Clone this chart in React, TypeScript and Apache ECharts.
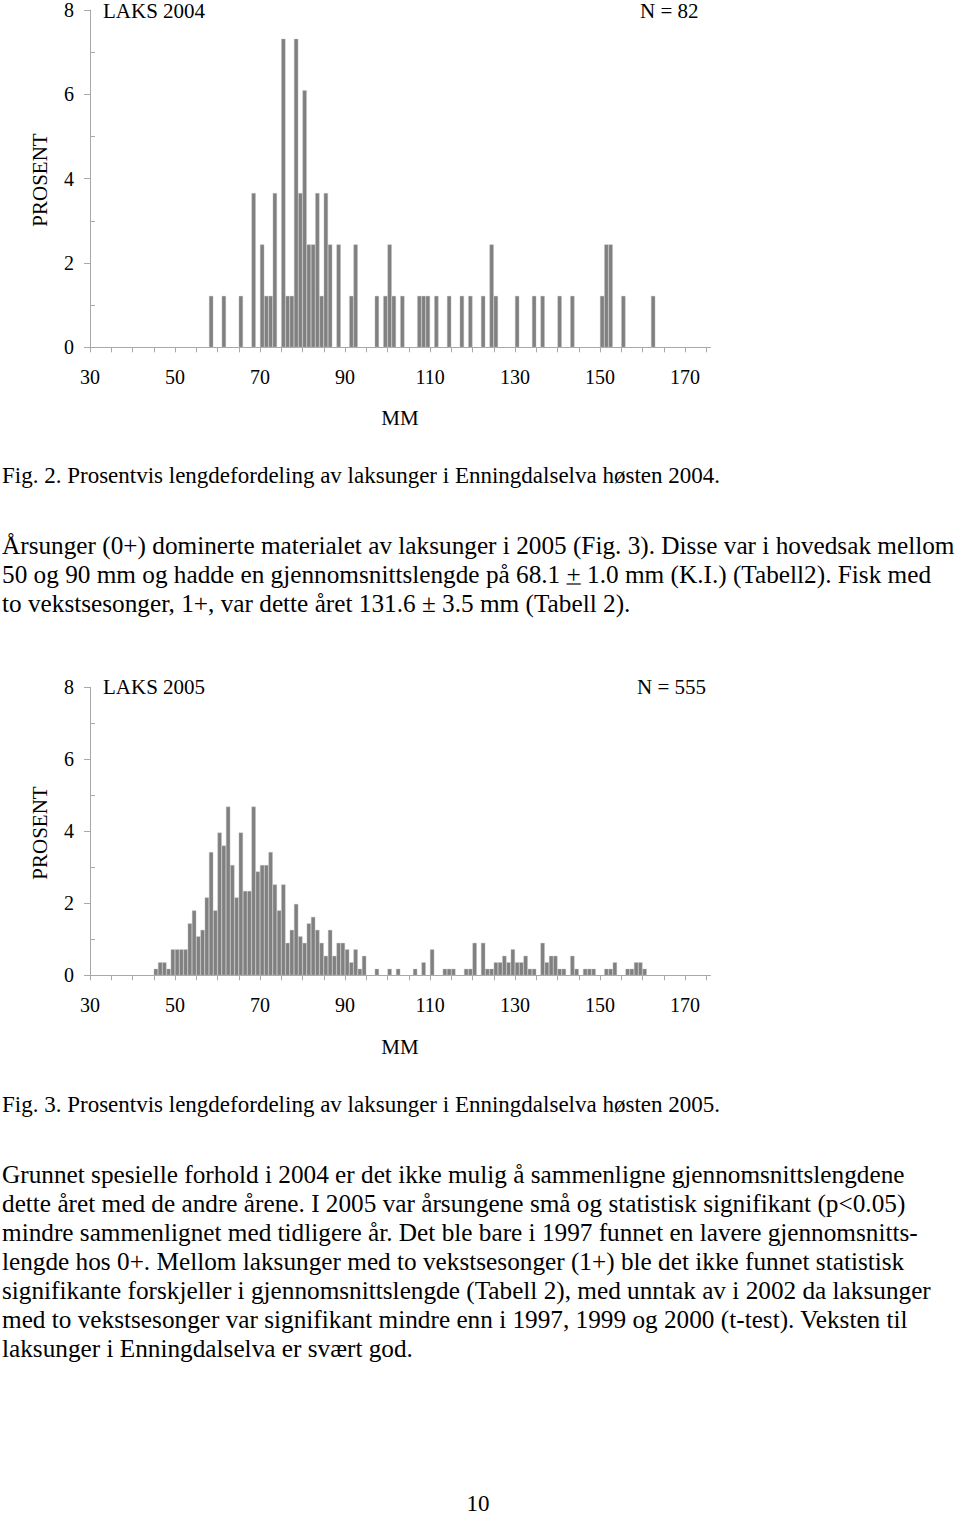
import React, { useEffect, useRef } from "react";
import * as echarts from "echarts";

// ---------- DATA ----------
const N2004 = 82;
const bins2004 = [58, 61, 65, 68, 70, 71, 72, 73, 75, 76, 77, 78, 79, 80, 81, 82, 83, 84, 85, 86, 88, 91, 92, 97, 99, 100, 101, 103, 107, 108, 109, 111, 114, 117, 119, 122, 124, 125, 130, 134, 136, 140, 143, 150, 151, 152, 155, 162];
const counts2004 = [1, 1, 1, 3, 2, 1, 1, 3, 6, 1, 1, 6, 3, 5, 2, 2, 3, 1, 3, 2, 2, 1, 2, 1, 1, 2, 1, 1, 1, 1, 1, 1, 1, 1, 1, 1, 2, 1, 1, 1, 1, 1, 1, 1, 2, 2, 1, 1];

const N2005 = 555;
const bins2005 = [45, 46, 47, 48, 49, 50, 51, 52, 53, 54, 55, 56, 57, 58, 59, 60, 61, 62, 63, 64, 65, 66, 67, 68, 69, 70, 71, 72, 73, 74, 75, 76, 77, 78, 79, 80, 81, 82, 83, 84, 85, 86, 87, 88, 89, 90, 91, 92, 93, 94, 97, 100, 102, 106, 108, 110, 113, 114, 115, 118, 119, 120, 122, 123, 124, 125, 126, 127, 128, 129, 130, 131, 132, 133, 134, 136, 137, 138, 139, 140, 141, 143, 144, 146, 147, 148, 151, 152, 153, 156, 157, 158, 159, 160];
const counts2005 = [1, 2, 2, 1, 4, 4, 4, 4, 8, 10, 6, 7, 12, 19, 10, 22, 20, 26, 17, 12, 22, 13, 13, 26, 16, 17, 17, 19, 14, 10, 14, 5, 7, 11, 6, 5, 8, 9, 7, 5, 3, 7, 3, 5, 5, 4, 2, 4, 1, 3, 1, 1, 1, 1, 2, 4, 1, 1, 1, 1, 1, 5, 5, 1, 1, 2, 2, 3, 2, 4, 2, 2, 3, 1, 1, 5, 2, 3, 3, 1, 1, 3, 1, 1, 1, 1, 1, 1, 2, 1, 1, 2, 2, 1];

const xTickValues = [30, 35, 40, 45, 50, 55, 60, 65, 70, 75, 80, 85, 90, 95, 100, 105, 110, 115, 120, 125, 130, 135, 140, 145, 150, 155, 160, 165, 170, 175];
const xLabelValues = [30, 50, 70, 90, 110, 130, 150, 170];
const yMinorValues = [1, 3, 5, 7];

const title2004 = "LAKS 2004";
const title2005 = "LAKS 2005";
const nLabel2004 = "N = 82";
const nLabel2005 = "N = 555";
const yName = "PROSENT";
const xName = "MM";

const caption2004 = "Fig. 2. Prosentvis lengdefordeling av laksunger i Enningdalselva høsten 2004.";
const caption2005 = "Fig. 3. Prosentvis lengdefordeling av laksunger i Enningdalselva høsten 2005.";
const para1 = [
  "Årsunger (0+) dominerte materialet av laksunger i 2005 (Fig. 3). Disse var i hovedsak mellom",
  "50 og 90 mm og hadde en gjennomsnittslengde på 68.1 + 1.0 mm (K.I.) (Tabell2). Fisk med",
  "to vekstsesonger, 1+, var dette året 131.6 ± 3.5 mm (Tabell 2).",
];
const para1UnderlinePrefix = "50 og 90 mm og hadde en gjennomsnittslengde på 68.1 ";
const para2 = [
  "Grunnet spesielle forhold i 2004 er det ikke mulig å sammenligne gjennomsnittslengdene",
  "dette året med de andre årene. I 2005 var årsungene små og statistisk signifikant (p<0.05)",
  "mindre sammenlignet med tidligere år. Det ble bare i 1997 funnet en lavere gjennomsnitts-",
  "lengde hos 0+. Mellom laksunger med to vekstsesonger (1+) ble det ikke funnet statistisk",
  "signifikante forskjeller i gjennomsnittslengde (Tabell 2), med unntak av i 2002 da laksunger",
  "med to vekstsesonger var signifikant mindre enn i 1997, 1999 og 2000 (t-test). Veksten til",
  "laksunger i Enningdalselva er svært god.",
];
const pageNumber = "10";

// ---------- STYLE ----------
const SERIF = '"Liberation Serif", "Times New Roman", Times, serif';
const AXIS = "#a8a8a8";
const BAR = "#808080";
const BODY_SIZE = 25.25;
const CAPTION_SIZE = 23;
const CHART_TEXT = 21;
const TICK_TEXT = 20;

function txt(text: string, x: number, y: number, size: number, align = "left", rotation = 0) {
  return {
    type: "text",
    x,
    y,
    rotation,
    silent: true,
    style: {
      text,
      fill: "#000",
      fontSize: size,
      fontFamily: SERIF,
      align,
      verticalAlign: "middle",
      textAlign: align,
      textVerticalAlign: "middle",
    },
  };
}

function measure(text: string, size: number) {
  const c = document.createElement("canvas").getContext("2d");
  if (!c) return text.length * size * 0.45;
  c.font = `${size}px ${SERIF}`;
  return c.measureText(text).width;
}

function xAxisFor(gridIndex: number) {
  return {
    type: "value",
    gridIndex,
    min: 30,
    max: 176,
    axisLine: { show: true, onZero: false, lineStyle: { color: AXIS, width: 1 } },
    axisTick: { show: true, length: 5, customValues: xTickValues, lineStyle: { color: AXIS } },
    axisLabel: { customValues: xLabelValues, margin: 20, fontSize: TICK_TEXT, fontFamily: SERIF, color: "#000" },
    splitLine: { show: false },
  };
}

function yAxesFor(gridIndex: number) {
  return [
    {
      type: "value",
      gridIndex,
      position: "left",
      min: 0,
      max: 8,
      interval: 2,
      axisLine: { show: true, onZero: false, lineStyle: { color: AXIS, width: 1 } },
      axisTick: { show: true, length: 6, lineStyle: { color: AXIS } },
      axisLabel: { margin: 16, fontSize: TICK_TEXT, fontFamily: SERIF, color: "#000" },
      splitLine: { show: false },
    },
    {
      type: "value",
      gridIndex,
      position: "left",
      min: 0,
      max: 8,
      axisLine: { show: false },
      axisTick: { show: true, inside: true, length: 5, customValues: yMinorValues, lineStyle: { color: AXIS } },
      axisLabel: { show: false },
      splitLine: { show: false },
    },
  ];
}

function barSeries(bins: number[], counts: number[], n: number, xi: number, yi: number) {
  return {
    type: "bar",
    xAxisIndex: xi,
    yAxisIndex: yi,
    silent: true,
    barWidth: 4.25,
    itemStyle: { color: BAR, borderColor: "#c8c8c8", borderWidth: 0.4 },
    data: bins.map((b, i) => [b + 0.5, (counts[i] / n) * 100]),
  };
}

export default function App() {
  const ref = useRef<HTMLDivElement>(null);

  useEffect(() => {
    if (!ref.current) return;
    const chart = echarts.init(ref.current, undefined, { renderer: "svg" });

    const graphics: any[] = [];
    // chart 1 texts
    graphics.push(txt(title2004, 103, 11, CHART_TEXT));
    graphics.push(txt(nLabel2004, 640, 11, CHART_TEXT));
    graphics.push(txt(yName, 40, 180, CHART_TEXT, "center", Math.PI / 2));
    graphics.push(txt(xName, 400, 418, CHART_TEXT, "center"));
    // chart 2 texts
    graphics.push(txt(title2005, 103, 687, CHART_TEXT));
    graphics.push(txt(nLabel2005, 637, 687, CHART_TEXT));
    graphics.push(txt(yName, 40, 833, CHART_TEXT, "center", Math.PI / 2));
    graphics.push(txt(xName, 400, 1047, CHART_TEXT, "center"));

    // document text
    graphics.push(txt(caption2004, 2, 475, CAPTION_SIZE));
    para1.forEach((line, i) => graphics.push(txt(line, 2, 545 + 29 * i, BODY_SIZE)));
    const ux = 2 + measure(para1UnderlinePrefix, BODY_SIZE);
    const uw = measure("+", BODY_SIZE);
    graphics.push({
      type: "line",
      silent: true,
      shape: { x1: ux, y1: 574 + 10, x2: ux + uw, y2: 574 + 10 },
      style: { stroke: "#000", lineWidth: 1.2 },
    });
    graphics.push(txt(caption2005, 2, 1104, CAPTION_SIZE));
    para2.forEach((line, i) => graphics.push(txt(line, 2, 1174 + 29 * i, BODY_SIZE)));
    graphics.push(txt(pageNumber, 478, 1503, 23, "center"));

    const ys = [...yAxesFor(0), ...yAxesFor(1)];

    chart.setOption({
      animation: false,
      backgroundColor: "#fff",
      grid: [
        { left: 90, top: 9.3, width: 620.5, height: 338, containLabel: false },
        { left: 90, top: 687.3, width: 620.5, height: 288, containLabel: false },
      ],
      xAxis: [xAxisFor(0), xAxisFor(1)],
      yAxis: ys,
      series: [
        barSeries(bins2004, counts2004, N2004, 0, 0),
        barSeries(bins2005, counts2005, N2005, 1, 2),
      ],
      graphic: { elements: graphics },
    });

    return () => chart.dispose();
  }, []);

  return (
    <div
      ref={ref}
      style={{ position: "absolute", left: 0, top: 0, width: 960, height: 1515, background: "#fff" }}
    />
  );
}
